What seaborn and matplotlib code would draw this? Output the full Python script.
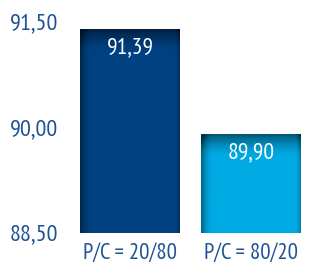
import numpy as np
import pandas as pd
import seaborn as sns
from matplotlib import pyplot as plt

# chart values
categories = ['P/C = 20/80', 'P/C = 80/20']
values = [91.39, 89.90]
bar_colors = ['#004182', '#00aae4']
yticks = [88.5, 90.0, 91.5]

sns.set_style('white')
plt.rcParams['font.family'] = ['PT Sans Narrow', 'DejaVu Sans']

df = pd.DataFrame({'cat': categories, 'val': values})

fig = plt.figure(figsize=(3.1, 2.62), dpi=100)
ax = fig.add_axes([80 / 310, 1 - 232.5 / 262, 221 / 310, 212.5 / 262])

sns.barplot(data=df, x='cat', y='val', hue='cat', palette=bar_colors,
            width=0.826, legend=False, ax=ax, saturation=1)

ax.set_ylim(88.5, 88.5 + 212.5 / 70.3)
ax.set_xlim(-0.413, 1.413)

# gradient shading on the bars (darker top and sides)
def to_rgb(h):
    h = h.lstrip('#')
    return np.array([int(h[i:i + 2], 16) / 255 for i in (0, 2, 4)])

for patch, col in zip(ax.patches, bar_colors):
    x, w = patch.get_x(), patch.get_width()
    y0, h = 88.5, patch.get_height() + patch.get_y() - 88.5
    ny, nx = 200, 100
    yy = np.linspace(1, 0, ny)[:, None]  # 1 at top
    xx = np.linspace(0, 1, nx)[None, :]
    top_px = (1 - yy) * h * 70.3
    dark_top = np.clip(1 - top_px / 22, 0, 1) ** 1.5 * 0.5
    dark_left = np.clip(1 - xx / 0.12, 0, 1) ** 2 * 0.4
    dark_right = np.clip(1 - (1 - xx) / 0.06, 0, 1) ** 2 * 0.25
    dark = np.clip(dark_top + dark_left + dark_right, 0, 0.7)
    img = to_rgb(col)[None, None, :] * (1 - dark[..., None])
    im = ax.imshow(img, extent=[x, x + w, y0, y0 + h], aspect='auto',
                   origin='upper', zorder=3)
    im.set_clip_path(patch)

for i, v in enumerate(values):
    ax.text(i, v - 0.26, f'{v:.2f}'.replace('.', ','), ha='center', va='center',
            color='white', fontsize=17, zorder=5)

ax.set_yticks(yticks)
ax.set_yticklabels([f'{t:.2f}'.replace('.', ',') for t in yticks])
ax.tick_params(axis='y', length=0, pad=16, labelsize=17.5, labelcolor='#1f5396')
ax.tick_params(axis='x', length=0, pad=7.5, labelsize=16.5, labelcolor='#1f5396')
ax.set_xlabel('')
ax.set_ylabel('')
sns.despine(ax=ax, left=True, bottom=True)

fig.savefig('out.png', dpi=100)
